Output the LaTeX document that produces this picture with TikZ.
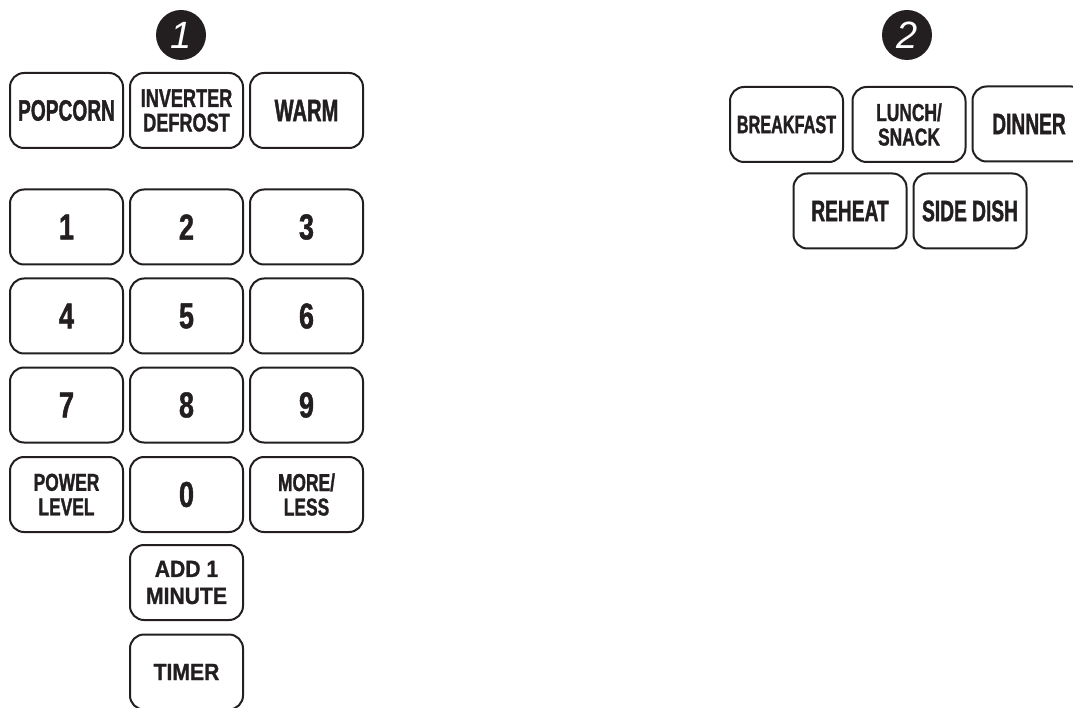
\documentclass[tikz,border=0pt]{standalone}
\usepackage{fontspec}
\newfontfamily\condA[FakeStretch=0.65,FakeBold=1.2]{Liberation Sans}
\newfontfamily\condB[FakeStretch=0.71,FakeBold=1.2]{Liberation Sans}
\newfontfamily\condC[FakeStretch=0.75,FakeBold=1.2]{Liberation Sans}
\newfontfamily\wide[FakeStretch=0.9,FakeBold=1]{Liberation Sans}
\newfontfamily\badgefont{Liberation Sans}
\definecolor{txt}{HTML}{231F20}
\begin{document}
\begin{tikzpicture}[x=1pt,y=-1pt,
  btn/.style={draw=txt, line width=2pt, rounded corners=14pt, minimum width=113pt,
    minimum height=75pt, inner sep=0pt, align=center, text=txt,
    font=\condA\bfseries\fontsize{29.5}{29}\selectfont},
  two/.style={font=\condB\bfseries\fontsize{24.5}{24.5}\selectfont},
  digit/.style={font=\condC\bfseries\fontsize{36}{36}\selectfont},
  myr/.style={font=\wide\bfseries\fontsize{23.5}{27}\selectfont},
  badge/.style={circle, fill=txt, minimum size=50pt, inner sep=0pt, text=white,
    font=\badgefont\itshape\fontsize{38}{38}\selectfont}]
\useasboundingbox (0,0) rectangle (1073,708);
% badges
\node[badge] (b1) at (181,35) {1};
\node[badge] (b2) at (907,35) {2};
% left group
\node[btn,two,font=\condB\bfseries\fontsize{25.5}{24.5}\selectfont] (inverter) at (186.5,110.5) {INVERTER\\DEFROST};
\node[btn] (popcorn) at (66.5,110.5) {POPCORN};
\node[btn,font=\condA\bfseries\fontsize{31}{31}\selectfont] (warm) at (306.5,110.5) {WARM};
\node[btn,digit] (k1) at (66.5,227) {1};
\node[btn,digit] (k2) at (186.5,227) {2};
\node[btn,digit] (k3) at (306.5,227) {3};
\node[btn,digit] (k4) at (66.5,316) {4};
\node[btn,digit] (k5) at (186.5,316) {5};
\node[btn,digit] (k6) at (306.5,316) {6};
\node[btn,digit] (k7) at (66.5,405) {7};
\node[btn,digit] (k8) at (186.5,405) {8};
\node[btn,digit] (k9) at (306.5,405) {9};
\node[btn,two] (power) at (66.5,494.5) {POWER\\LEVEL};
\node[btn,digit] (k0) at (186.5,494.5) {0};
\node[btn,two] (more) at (306.5,494.5) {MORE/\\LESS};
\node[btn,myr] (add) at (186.5,582.5) {ADD 1\\MINUTE};
\node[btn,myr] (timer) at (186.5,672) {TIMER};
% right group
\node[btn,font=\condA\bfseries\fontsize{25}{25}\selectfont] (breakfast) at (786.5,124.5) {BREAKFAST};
\node[btn,two] (lunch) at (909,124.5) {LUNCH/\\SNACK};
\node[btn] (dinner) at (1029,124) {DINNER};
\node[btn] (reheat) at (850,211) {REHEAT};
\node[btn] (side) at (970,211) {SIDE DISH};
\end{tikzpicture}
\end{document}
